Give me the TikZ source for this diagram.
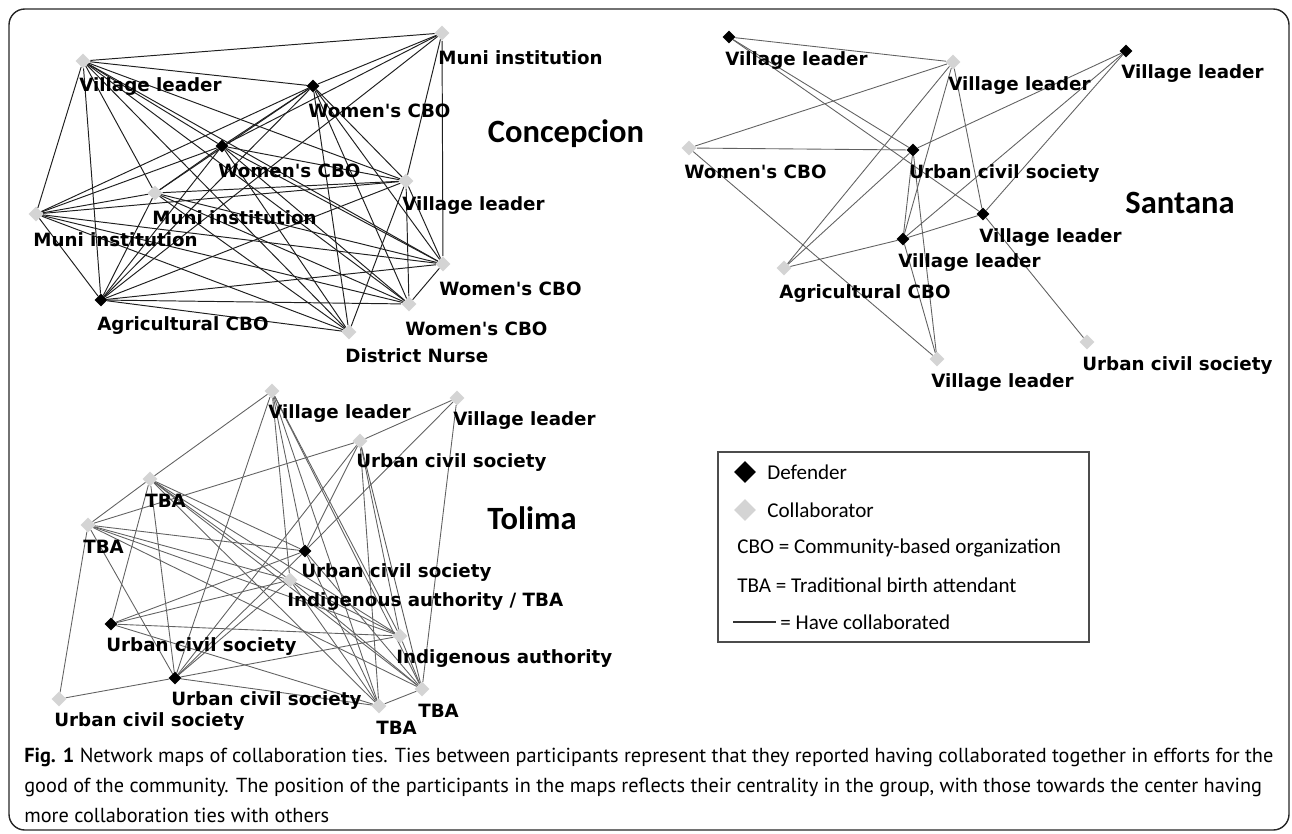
\documentclass[tikz,border=0pt]{standalone}
\usepackage{fontspec}
\usepackage{xcolor}
\usepackage{tikz}
\usetikzlibrary{shapes.geometric,backgrounds,calc}
\newfontfamily\labfont{DejaVu Sans}
\newfontfamily\keyfont{Carlito}
\newfontfamily\capfont{PT Sans}
\definecolor{collabgray}{RGB}{212,212,212}

\begin{document}
\begin{tikzpicture}[
  x={(0.02cm,0cm)},y={(0cm,-0.02cm)},
  defender/.style={diamond,fill=black,minimum size=7.4pt,inner sep=0pt},
  collab/.style={diamond,fill=collabgray,minimum size=8.6pt,inner sep=0pt},
  lab/.style={anchor=west,inner sep=0pt,font=\labfont\bfseries\fontsize{10.4pt}{12pt}\selectfont},
  title/.style={inner sep=0pt,font=\keyfont\bfseries\fontsize{18.5pt}{22pt}\selectfont},
  keytext/.style={anchor=west,inner sep=0pt,font=\keyfont\fontsize{12pt}{14pt}\selectfont},
  tieC/.style={black!88,line width=0.55pt},
  tie/.style={black!62,line width=0.5pt}
]
  \useasboundingbox (0,0) rectangle (1292,833);
  \draw[black!85,line width=0.8pt,rounded corners=9pt] (9,9) rectangle (1289,830);

  % Concepcion
  \node[collab]   (c1)  at (83,61)   {}; \node[lab] (c1l)  at (79,87)   {Village leader};
  \node[defender] (c2)  at (313,86)  {}; \node[lab] (c2l)  at (308,111) {Women's CBO};
  \node[collab]   (c3)  at (442,33)  {}; \node[lab] (c3l)  at (438,58)  {Muni institution};
  \node[defender] (c4)  at (222,146) {}; \node[lab] (c4l)  at (218,171) {Women's CBO};
  \node[collab]   (c5)  at (155,193) {}; \node[lab] (c5l)  at (152,218) {Muni institution};
  \node[collab]   (c6)  at (36,214)  {}; \node[lab] (c6l)  at (33,240)  {Muni institution};
  \node[collab]   (c7)  at (406,181) {}; \node[lab] (c7l)  at (402,206) {Village leader};
  \node[defender] (c8)  at (101,300) {}; \node[lab] (c8l)  at (97,326)  {Agricultural CBO};
  \node[collab]   (c9)  at (443,264) {}; \node[lab] (c9l)  at (439,289) {Women's CBO};
  \node[collab]   (c10) at (409,304) {}; \node[lab] (c10l) at (405,329) {Women's CBO};
  \node[collab]   (c11) at (349,332) {}; \node[lab] (c11l) at (345,356) {District Nurse};
  \node[title] (concepcion) at (566,134) {Concepcion};
  \begin{scope}[on background layer]
    \foreach \a/\b in {c1/c2,c1/c3,c1/c4,c1/c5,c1/c6,c1/c7,c1/c8,c1/c9,c1/c10,c1/c11,
      c2/c3,c2/c4,c2/c5,c2/c6,c2/c7,c2/c8,c2/c9,c2/c10,c2/c11,
      c3/c4,c3/c7,c3/c8,c3/c9,
      c4/c5,c4/c6,c4/c7,c4/c8,c4/c9,c4/c10,c4/c11,
      c5/c6,c5/c7,c5/c8,c5/c9,c5/c10,c5/c11,
      c6/c7,c6/c8,c6/c9,c6/c10,c6/c11,
      c7/c8,c7/c9,c7/c10,c7/c11,
      c8/c9,c8/c10,c8/c11,c9/c10}
      \draw[tieC] (\a) -- (\b);
  \end{scope}

  % Santana
  \node[defender] (s1)  at (729,37)  {}; \node[lab] (s1l)  at (725,61)  {Village leader};
  \node[collab]   (s2)  at (953,62)  {}; \node[lab] (s2l)  at (948,86)  {Village leader};
  \node[defender] (s3)  at (1126,51) {}; \node[lab] (s3l)  at (1121,74) {Village leader};
  \node[collab]   (s4)  at (689,148) {}; \node[lab] (s4l)  at (684,172) {Women's CBO};
  \node[defender] (s5)  at (913,150) {}; \node[lab] (s5l)  at (909,174) {Urban civil society};
  \node[defender] (s6)  at (983,214) {}; \node[lab] (s6l)  at (979,238) {Village leader};
  \node[defender] (s7)  at (903,239) {}; \node[lab] (s7l)  at (898,263) {Village leader};
  \node[collab]   (s8)  at (784,268) {}; \node[lab] (s8l)  at (779,294) {Agricultural CBO};
  \node[collab]   (s9)  at (937,359) {}; \node[lab] (s9l)  at (931,383) {Village leader};
  \node[collab]   (s10) at (1087,342) {}; \node[lab] (s10l) at (1082,366) {Urban civil society};
  \node[title] (santana) at (1180,203) {Santana};
  \begin{scope}[on background layer]
    \foreach \a/\b in {s1/s2,s1/s5,s1/s6,s2/s4,s2/s8,s2/s7,s2/s6,s4/s5,s4/s9,
      s5/s3,s5/s7,s5/s9,s8/s5,s8/s7,s7/s3,s7/s6,s7/s9,s6/s3,s6/s10}
      \draw[tie] (\a) -- (\b);
  \end{scope}

  % Tolima
  \node[collab]   (t1)  at (272,391) {}; \node[lab] (t1l)  at (268,414) {Village leader};
  \node[collab]   (t2)  at (457,398) {}; \node[lab] (t2l)  at (453,421) {Village leader};
  \node[collab]   (t3)  at (360,441) {}; \node[lab] (t3l)  at (356,463) {Urban civil society};
  \node[collab]   (t4)  at (150,479) {}; \node[lab] (t4l)  at (145,501) {TBA};
  \node[collab]   (t5)  at (88,525)  {}; \node[lab] (t5l)  at (83,547)  {TBA};
  \node[defender] (t6)  at (305,551) {}; \node[lab] (t6l)  at (301,573) {Urban civil society};
  \node[collab]   (t7)  at (290,580) {}; \node[lab] (t7l)  at (287,602) {Indigenous authority / TBA};
  \node[defender] (t8)  at (111,624) {}; \node[lab] (t8l)  at (106,647) {Urban civil society};
  \node[collab]   (t9)  at (400,636) {}; \node[lab] (t9l)  at (396,659) {Indigenous authority};
  \node[defender] (t10) at (175,678) {}; \node[lab] (t10l) at (171,701) {Urban civil society};
  \node[collab]   (t11) at (59,699)  {}; \node[lab] (t11l) at (54,722)  {Urban civil society};
  \node[collab]   (t12) at (379,706) {}; \node[lab] (t12l) at (376,728) {TBA};
  \node[collab]   (t13) at (422,689) {}; \node[lab] (t13l) at (418,711) {TBA};
  \node[title] (tolima) at (532,518) {Tolima};
  \begin{scope}[on background layer]
    \foreach \a/\b in {t1/t4,t1/t6,t1/t7,t1/t9,t1/t10,t1/t12,t1/t13,
      t2/t3,t2/t6,t2/t13,
      t3/t5,t3/t6,t3/t9,t3/t10,t3/t12,t3/t13,
      t4/t5,t4/t6,t4/t7,t4/t8,t4/t9,t4/t10,t4/t12,t4/t13,
      t5/t6,t5/t7,t5/t9,t5/t10,t5/t11,t5/t13,
      t6/t8,t6/t10,t6/t12,t6/t13,
      t7/t8,t7/t9,t7/t10,t7/t12,t7/t13,
      t8/t9,t8/t12,t9/t10,t9/t13,t10/t11,t10/t12,t12/t13}
      \draw[tie] (\a) -- (\b);
  \end{scope}

  % legend
  \coordinate (keyNW) at (718,452);
  \coordinate (keySE) at (1089,642);
  \draw[black!70,line width=0.7pt] (keyNW) rectangle (keySE);
  \node[defender,minimum size=12.5pt] (kdef) at (745,472) {};
  \node[keytext] (kdeft) at (767,472) {Defender};
  \node[collab,minimum size=12.5pt] (kcol) at (745,510) {};
  \node[keytext] (kcolt) at (767,510) {Collaborator};
  \node[keytext] (kcbo) at (737,548) {CBO = Community-based\ organization};
  \node[keytext] (ktba) at (737,585) {TBA = Traditional birth attendant};
  \coordinate (ktieA) at (733,622);
  \coordinate (ktieB) at (776,622);
  \draw[black!80,line width=0.6pt] (ktieA) -- (ktieB);
  \node[keytext] (ktie) at (780,622) {= Have collaborated};

  % caption
  \node[anchor=north west,inner sep=0pt,align=left,
    font=\capfont\fontsize{11.55pt}{17pt}\selectfont] (caption) at (24,748)
    {\textbf{Fig. 1} Network maps of collaboration ties. Ties between participants represent that they reported having collaborated together in efforts for the\\
     good of the community. The position of the participants in the maps reflects their centrality in the group, with those towards the center having\\
     more collaboration ties with others};
\end{tikzpicture}
\end{document}
